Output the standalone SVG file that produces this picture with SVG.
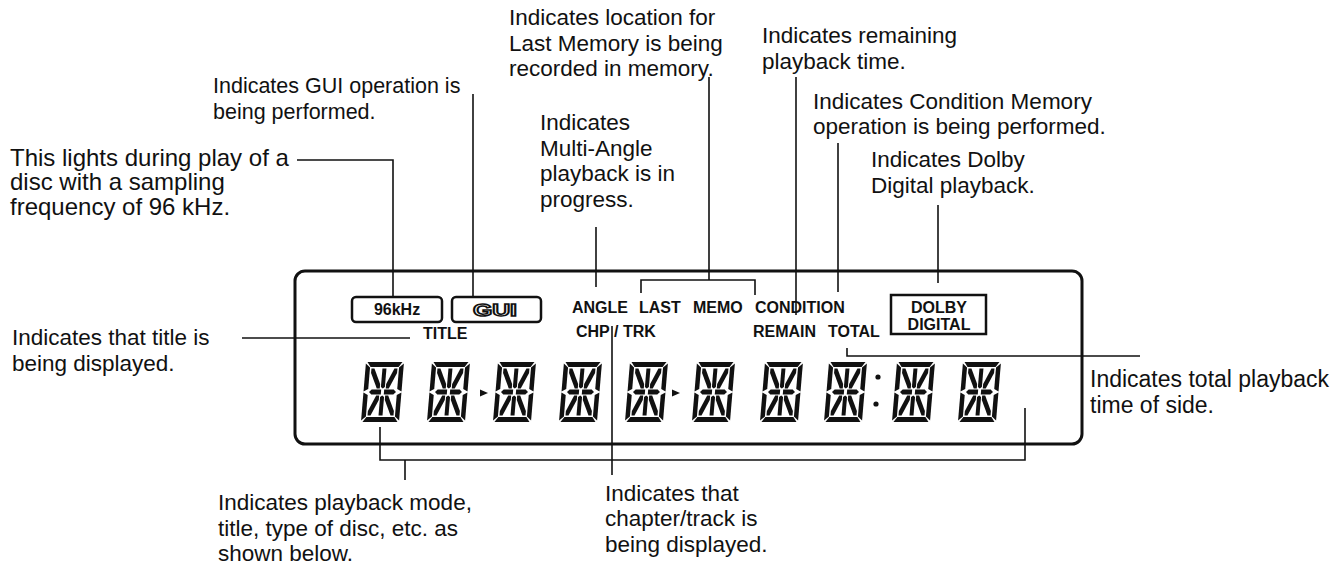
<svg xmlns="http://www.w3.org/2000/svg" xmlns:xlink="http://www.w3.org/1999/xlink" width="1343" height="566" viewBox="0 0 1343 566">
<style>
.t{font-family:"Liberation Sans",Arial,sans-serif;font-size:22.5px;fill:#111}
.b{font-family:"Liberation Sans",Arial,sans-serif;font-weight:bold;font-size:16px;fill:#111}
.ld{fill:none;stroke:#111;stroke-width:1.6}
.box{fill:#fff;stroke:#111;stroke-width:2.5}
</style>
<defs>
<g id="d14" transform="skewX(-4.8)" fill="#111">
<polygon points="1.5,0 36.5,0 33,5 5,5"/>
<polygon points="1.5,60 36.5,60 33,55 5,55"/>
<polygon points="0,1.5 4.5,5.5 4.5,27 0,29.5"/>
<polygon points="0,30.5 4.5,33 4.5,54.5 0,58.5"/>
<polygon points="38,1.5 33.5,5.5 33.5,27 38,29.5"/>
<polygon points="38,30.5 33.5,33 33.5,54.5 38,58.5"/>
<polygon points="5.5,30 8,27.5 17.5,27.5 17.5,32.5 8,32.5"/>
<polygon points="20.5,27.5 30,27.5 32.5,30 30,32.5 20.5,32.5"/>
<polygon points="17,6.5 21,6.5 21,25 19,26.5 17,25"/>
<polygon points="17,35 19,33.5 21,35 21,53.5 17,53.5"/>
<polygon points="6,6.5 9,6.5 16,22 16,26.5 13,26.5 6,11"/>
<polygon points="32,6.5 29,6.5 22,22 22,26.5 25,26.5 32,11"/>
<polygon points="6,53.5 9,53.5 16,38 16,33.5 13,33.5 6,49"/>
<polygon points="32,53.5 29,53.5 22,38 22,33.5 25,33.5 32,49"/>
</g>
</defs>
<rect width="1343" height="566" fill="#fff"/>

<g id="panel">
<rect x="295" y="271" width="787" height="173" rx="10" fill="none" stroke="#111" stroke-width="3"/>
</g>

<g id="connectors">
<path class="ld" d="M297 160H393V296"/>
<path class="ld" d="M473 94V296"/>
<path class="ld" d="M596 227V287"/>
<path class="ld" d="M709 77V280M641 293V280H755V295"/>
<path class="ld" d="M796 77V315"/>
<path class="ld" d="M838 143V292"/>
<path class="ld" d="M938 205V283"/>
<path class="ld" d="M847 348V356H1140"/>
<path class="ld" d="M242 338H410"/>
<path class="ld" d="M612 326V475"/>
<path class="ld" d="M380 427V460H1025V408M405 460V480"/>
</g>

<g id="ind-96khz">
<rect class="box" x="352" y="297" width="90" height="25" rx="4"/>
<text class="b" x="397" y="315" text-anchor="middle" font-size="16.5">96kHz</text>
</g>
<g id="ind-gui">
<rect class="box" x="452" y="297" width="89" height="25" rx="4"/>
<text x="473" y="316" font-family="Liberation Sans,Arial,sans-serif" font-weight="bold" font-size="17" textLength="44" lengthAdjust="spacingAndGlyphs" fill="#fff" stroke="#111" stroke-width="1.5">GUI</text>
</g>
<g id="ind-angle"><text class="b" x="572" y="313">ANGLE</text></g>
<g id="ind-lastmemo"><text class="b" x="639" y="313">LAST</text><text class="b" x="693" y="313">MEMO</text></g>
<g id="ind-condition"><text class="b" x="755" y="313">CONDITION</text></g>
<g id="ind-remain"><text class="b" x="753" y="337">REMAIN</text></g>
<g id="ind-total"><text class="b" x="828" y="337">TOTAL</text></g>
<g id="ind-title"><text class="b" x="423" y="339">TITLE</text></g>
<g id="ind-chptrk"><text class="b" x="576" y="337">CHP</text><text class="b" x="614" y="337">/ TRK</text></g>
<g id="ind-dolby">
<rect x="891" y="295" width="95" height="39" fill="#fff" stroke="#111" stroke-width="2.5"/>
<text class="b" x="939" y="313" text-anchor="middle" font-size="16.5">DOLBY</text>
<text class="b" x="939" y="330" text-anchor="middle" font-size="16.5">DIGITAL</text>
</g>

<g id="digits">
<use xlink:href="#d14" x="366" y="362"/>
<use xlink:href="#d14" x="432" y="362"/>
<use xlink:href="#d14" x="498" y="362"/>
<use xlink:href="#d14" x="564" y="362"/>
<use xlink:href="#d14" x="630" y="362"/>
<use xlink:href="#d14" x="697" y="362"/>
<use xlink:href="#d14" x="765" y="362"/>
<use xlink:href="#d14" x="829" y="362"/>
<use xlink:href="#d14" x="897" y="362"/>
<use xlink:href="#d14" x="963" y="362"/>
<polygon points="480,389.5 488,393 480,396.5" fill="#111"/>
<polygon points="672,389.5 680,393 672,396.5" fill="#111"/>
<circle cx="878" cy="377" r="2.6" fill="#111"/>
<circle cx="876" cy="404" r="2.6" fill="#111"/>
</g>

<g id="lbl-96khz" font-size="24"><text class="t" style="font-size:24px" x="10" y="165.5">This lights during play of a</text><text class="t" style="font-size:24px" x="10" y="190">disc with a sampling</text><text class="t" style="font-size:24px" x="10" y="214.5">frequency of 96 kHz.</text></g>
<g id="lbl-gui"><text class="t" style="font-size:21.5px" x="213" y="93">Indicates GUI operation is</text><text class="t" style="font-size:21.5px" x="213" y="118.5">being performed.</text></g>
<g id="lbl-lastmemo"><text class="t" x="509" y="25">Indicates location for</text><text class="t" x="509" y="50.5">Last Memory is being</text><text class="t" x="509" y="76">recorded in memory.</text></g>
<g id="lbl-angle"><text class="t" x="540" y="130">Indicates</text><text class="t" x="540" y="155.5">Multi-Angle</text><text class="t" x="540" y="181">playback is in</text><text class="t" x="540" y="206.5">progress.</text></g>
<g id="lbl-remain"><text class="t" x="762" y="43">Indicates remaining</text><text class="t" x="762" y="68.5">playback time.</text></g>
<g id="lbl-condition"><text class="t" x="813" y="108.5">Indicates Condition Memory</text><text class="t" x="813" y="134">operation is being performed.</text></g>
<g id="lbl-dolby"><text class="t" x="871" y="167">Indicates Dolby</text><text class="t" x="871" y="192.5">Digital playback.</text></g>
<g id="lbl-title"><text class="t" x="12" y="345">Indicates that title is</text><text class="t" x="12" y="371">being displayed.</text></g>
<g id="lbl-total"><text class="t" style="font-size:23px" x="1090" y="387">Indicates total playback</text><text class="t" style="font-size:23px" x="1090" y="412.5">time of side.</text></g>
<g id="lbl-mode"><text class="t" x="218" y="510">Indicates playback mode,</text><text class="t" x="218" y="535.5">title, type of disc, etc. as</text><text class="t" x="218" y="561">shown below.</text></g>
<g id="lbl-chptrk"><text class="t" x="605" y="500.5">Indicates that</text><text class="t" x="605" y="526">chapter/track is</text><text class="t" x="605" y="551.5">being displayed.</text></g>
</svg>
